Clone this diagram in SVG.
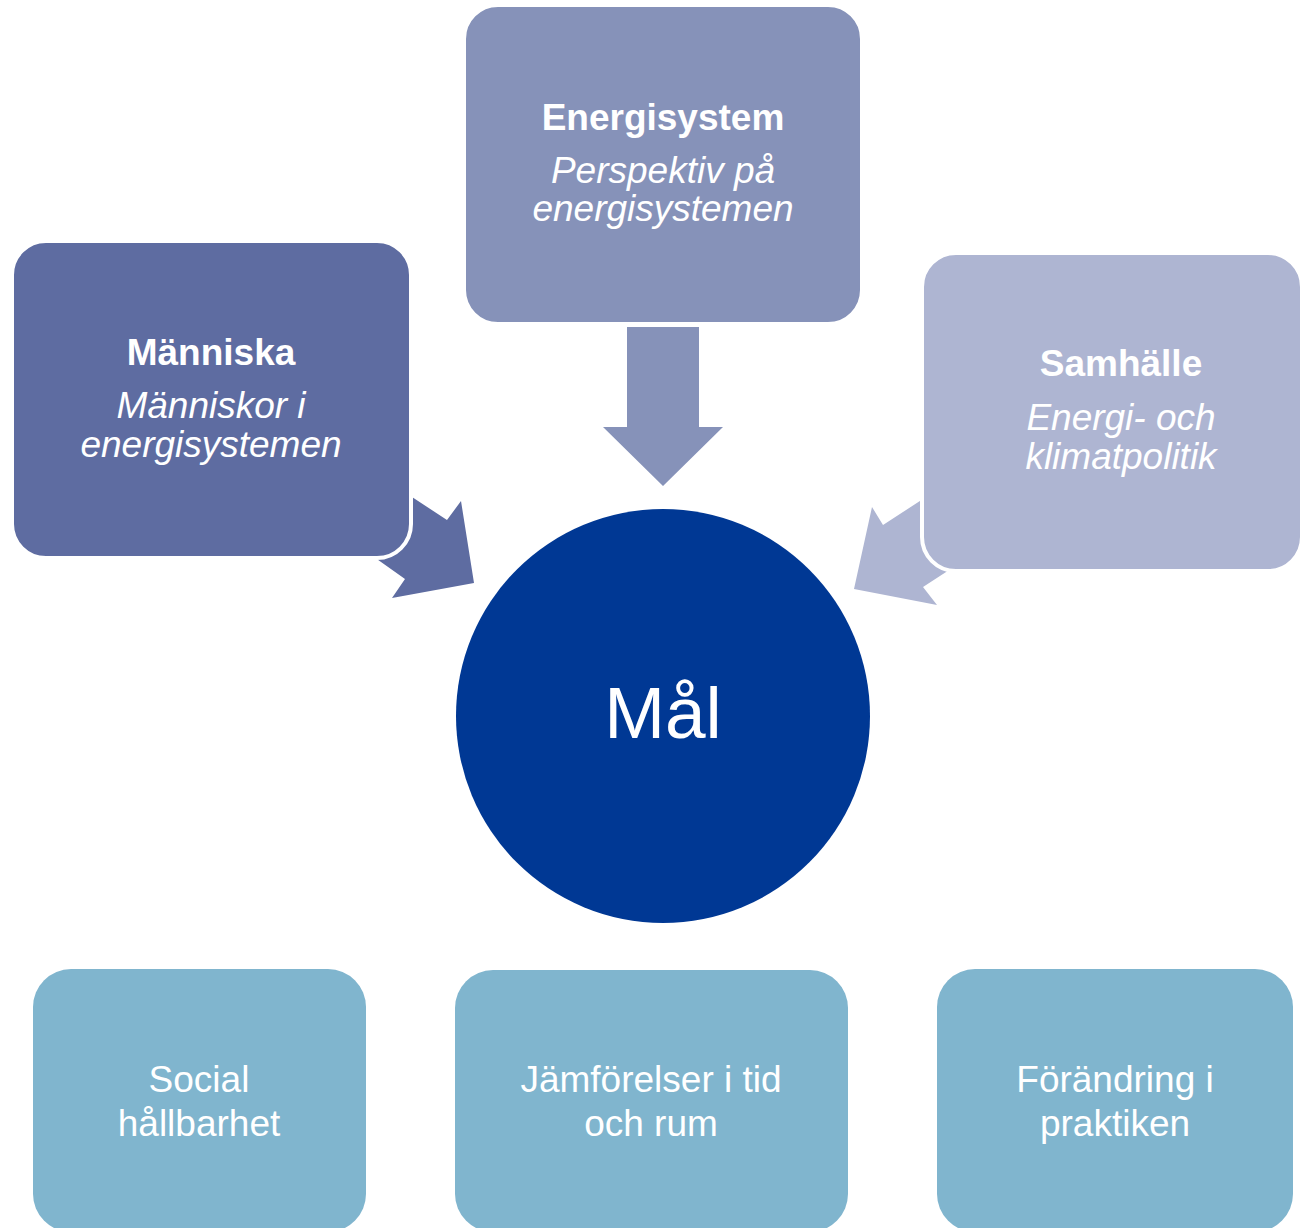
<svg xmlns="http://www.w3.org/2000/svg" width="1301" height="1228" viewBox="0 0 1301 1228">
<style>
text{font-family:"Liberation Sans",Arial,sans-serif;fill:#ffffff;text-anchor:middle}
.t{font-weight:bold;font-size:37px}
.s{font-style:italic;font-size:37px}
.b{font-size:37px}
.m{font-size:73px}
.top{stroke:#ffffff;stroke-width:4}
.bot{fill:#80B5CE}
</style>
<rect width="1301" height="1228" fill="#ffffff"/>
<g id="connectors">
<path d="M627,327 H699 V427 H723 L663,486 L603,427 H627 Z" fill="#8692B9"/>
<path d="M380,476 L447,520 L461,501 L474,583 L392,598 L405,579 L350,540 Z" fill="#5E6CA1"/>
<path d="M963,473 L883,525 L872,507 L854,589 L937,605 L923,587 L1003,535 Z" fill="#AEB5D2"/>
</g>
<g id="node-energisystem">
<rect class="top" x="464" y="5" width="398" height="319" rx="34" fill="#8692B9"/>
<text class="t" x="663" y="130">Energisystem</text>
<text class="s" x="663" y="183">Perspektiv på</text>
<text class="s" x="663" y="221">energisystemen</text>
</g>
<g id="node-manniska">
<rect class="top" x="12" y="241" width="399" height="317" rx="34" fill="#5E6CA1"/>
<text class="t" x="211" y="365">Människa</text>
<text class="s" x="211" y="418">Människor i</text>
<text class="s" x="211" y="457">energisystemen</text>
</g>
<g id="node-samhalle">
<rect class="top" x="922" y="253" width="380" height="318" rx="34" fill="#AEB5D2"/>
<text class="t" x="1121" y="376">Samhälle</text>
<text class="s" x="1121" y="430">Energi- och</text>
<text class="s" x="1121" y="469">klimatpolitik</text>
</g>
<g id="node-mal">
<circle cx="663" cy="716" r="207" fill="#003894"/>
<text class="m" x="663" y="738">Mål</text>
</g>
<g id="node-social">
<rect class="bot" x="33" y="969" width="333" height="263" rx="38"/>
<text class="b" x="199" y="1092">Social</text>
<text class="b" x="199" y="1136">hållbarhet</text>
</g>
<g id="node-jamforelser">
<rect class="bot" x="455" y="970" width="393" height="262" rx="38"/>
<text class="b" x="651" y="1092">Jämförelser i tid</text>
<text class="b" x="651" y="1136">och rum</text>
</g>
<g id="node-forandring">
<rect class="bot" x="937" y="969" width="356" height="263" rx="38"/>
<text class="b" x="1115" y="1092">Förändring i</text>
<text class="b" x="1115" y="1136">praktiken</text>
</g>
</svg>
